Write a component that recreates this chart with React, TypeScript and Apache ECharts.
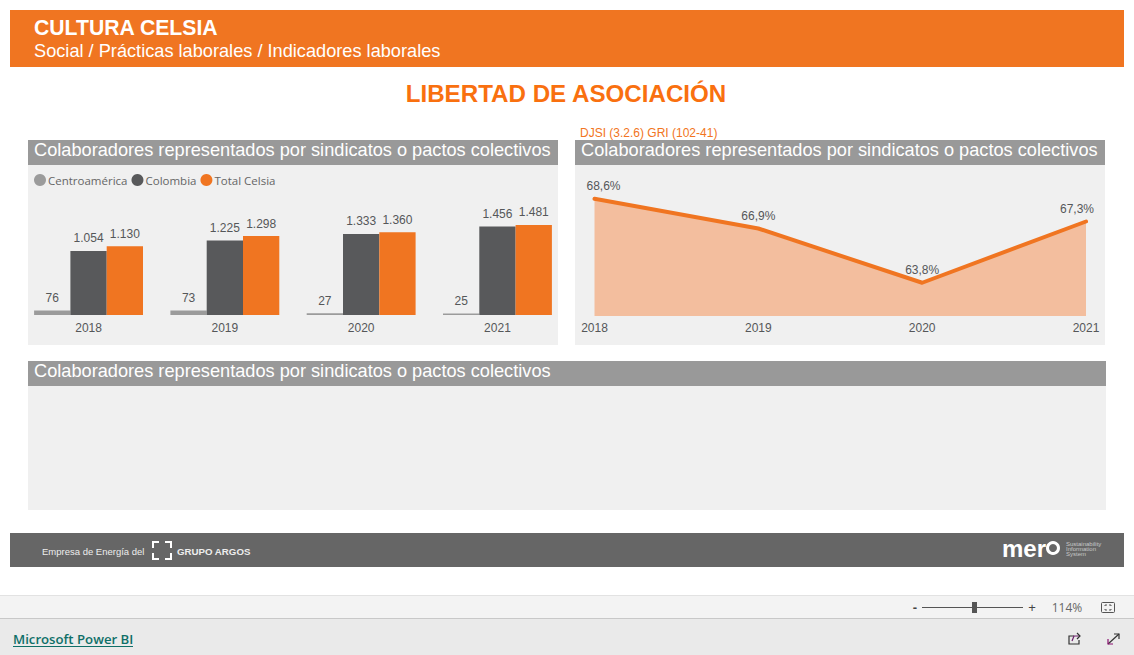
import React, { useEffect, useRef } from "react";
import * as echarts from "echarts";

const years = ["2018", "2019", "2020", "2021"];
const centroamerica = [76, 73, 27, 25];
const colombia = [1054, 1225, 1333, 1456];
const totalCelsia = [1130, 1298, 1360, 1481];
const representacion = [68.6, 66.9, 63.8, 67.3];

const panelTitle = "Colaboradores representados por sindicatos o pactos colectivos";
const ORANGE = "#F07521";
const SANS = "Liberation Sans, Arial, sans-serif";
const LABEL = "#555759";

const thousands = (v: number) => String(v).replace(/\B(?=(\d{3})+$)/g, ".");
const percent = (v: number) => v.toFixed(1).replace(".", ",") + "%";

const rect = (x: number, y: number, width: number, height: number, fill: string) => ({
  type: "rect",
  silent: true,
  shape: { x, y, width, height },
  style: { fill },
});
const text = (x: number, y: number, t: string, font: string, fill: string, align = "left") => ({
  type: "text",
  silent: true,
  x,
  y,
  style: { text: t, font, fill, align, verticalAlign: "middle" },
});
const stroke = (points: number[][], color: string, lineWidth = 1) => ({
  type: "polyline",
  silent: true,
  shape: { points },
  style: { stroke: color, fill: "none", lineWidth },
});

const graphics = [
  rect(10, 10, 1114, 57, ORANGE),
  text(34, 27.5, "CULTURA CELSIA", `bold 21.2px ${SANS}`, "#fff"),
  text(34, 51, "Social / Prácticas laborales / Indicadores laborales", `18.2px ${SANS}`, "#fff"),
  text(566, 93.5, "LIBERTAD DE ASOCIACIÓN", `bold 24.15px ${SANS}`, "#F9700F", "center"),
  text(580, 132.5, "DJSI (3.2.6) GRI (102-41)", `12px ${SANS}`, "#F27522"),

  rect(28, 140, 530, 205, "#F0F0F0"),
  rect(28, 140, 530, 25, "#999999"),
  text(34, 150, panelTitle, `18.2px ${SANS}`, "#fff"),

  rect(575, 140, 530, 205, "#F0F0F0"),
  rect(575, 140, 530, 25, "#999999"),
  text(581, 150, panelTitle, `18.2px ${SANS}`, "#fff"),

  rect(28, 361, 1078, 149, "#F0F0F0"),
  rect(28, 361, 1078, 25, "#999999"),
  text(34, 371, panelTitle, `18.2px ${SANS}`, "#fff"),

  rect(10, 533, 1114, 34, "#666666"),
  text(42, 551, "Empresa de Energía del", `9.5px ${SANS}`, "#EDEDED"),
  stroke([[153, 548], [153, 542], [159, 542]], "#fff", 2),
  stroke([[165, 542], [171, 542], [171, 548]], "#fff", 2),
  stroke([[153, 553], [153, 559], [159, 559]], "#fff", 2),
  stroke([[165, 559], [171, 559], [171, 553]], "#fff", 2),
  text(177, 551, "GRUPO ARGOS", `bold 9.7px ${SANS}`, "#EDEDED"),
  text(1002, 548, "mer", `bold 24px ${SANS}`, "#fff"),
  { type: "circle", silent: true, shape: { cx: 1053, cy: 548, r: 5.5 }, style: { fill: "none", stroke: "#fff", lineWidth: 3 } },
  text(1066, 544, "Sustainability", `6px ${SANS}`, "#C8C8C8"),
  text(1066, 549, "Information", `6px ${SANS}`, "#C8C8C8"),
  text(1066, 554, "System", `6px ${SANS}`, "#C8C8C8"),

  rect(0, 596, 1134, 23, "#F3F3F3"),
  rect(0, 595, 1134, 1, "#E2E2E2"),
  rect(0, 618, 1134, 37, "#EAEAEA"),
  rect(0, 618, 1134, 1, "#C8C8C8"),
  text(915, 607, "-", `bold 13px ${SANS}`, "#444", "center"),
  rect(922, 607, 101, 1, "#555"),
  rect(972, 602, 5, 11, "#555"),
  text(1032, 607, "+", `13px ${SANS}`, "#444", "center"),
  text(1067, 607, "114%", `12px "Open Sans", ${SANS}`, "#666", "center"),
  {
    type: "rect",
    silent: true,
    shape: { x: 1101.5, y: 602.5, width: 13, height: 10, r: 1 },
    style: { fill: "none", stroke: "#555", lineWidth: 1 },
  },
  stroke([[1105, 606], [1105, 605], [1107, 605]], "#555", 1),
  stroke([[1109, 605], [1111, 605], [1111, 606]], "#555", 1),
  stroke([[1105, 609], [1105, 610], [1107, 610]], "#555", 1),
  stroke([[1109, 610], [1111, 610], [1111, 609]], "#555", 1),
  text(13, 639, "Microsoft Power BI", `600 13.2px "Open Sans", ${SANS}`, "#0F6F68"),
  rect(13, 646, 120, 1, "#0F6F68"),
  stroke([[1074, 636], [1069, 636], [1069, 644], [1079, 644], [1079, 640]], "#333", 1.2),
  stroke([[1072, 641], [1074, 636], [1080, 636]], "#6B1F6B", 1.2),
  stroke([[1077, 633], [1080, 636], [1077, 639]], "#333", 1.2),
  stroke([[1108, 644], [1119, 634]], "#333", 1.2),
  stroke([[1114, 634], [1119, 634], [1119, 639]], "#333", 1.2),
  stroke([[1108, 639], [1108, 644], [1113, 644]], "#8A1070", 1.2),
];

const barLabel = {
  show: true,
  position: "top" as const,
  distance: 6.5,
  color: LABEL,
  fontFamily: SANS,
  fontSize: 12,
  formatter: (p: any) => thousands(p.value),
};

const barSeries = (name: string, data: number[], color: string) => ({
  type: "bar",
  name,
  data,
  xAxisIndex: 0,
  yAxisIndex: 0,
  barWidth: 36.3,
  barGap: 0,
  itemStyle: { color },
  label: barLabel,
});

export default function App() {
  const ref = useRef<HTMLDivElement>(null);
  useEffect(() => {
    const chart = echarts.init(ref.current!, undefined, { renderer: "svg" });
    chart.setOption({
      animation: false,
      backgroundColor: "#fff",
      graphic: { elements: graphics },
      legend: {
        left: 29,
        top: 169,
        icon: "circle",
        itemWidth: 12,
        itemHeight: 12,
        itemGap: 4,
        selectedMode: false,
        data: ["Centroamérica", "Colombia", "Total Celsia"],
        textStyle: {
          color: "#666",
          fontSize: 11.5,
          fontFamily: '"Open Sans", sans-serif',
          padding: [0, 0, 0, -3],
        },
      },
      grid: [
        { left: 20.4, width: 545.2, top: 215, height: 100 },
        { left: 594.5, width: 491.5, top: 190, height: 126 },
      ],
      xAxis: [
        {
          type: "category",
          gridIndex: 0,
          data: years,
          axisLine: { show: false },
          axisTick: { show: false },
          axisLabel: { color: LABEL, fontFamily: SANS, fontSize: 12, margin: 7 },
        },
        {
          type: "category",
          gridIndex: 1,
          data: years,
          boundaryGap: false,
          axisLine: { show: false },
          axisTick: { show: false },
          axisLabel: { color: LABEL, fontFamily: SANS, fontSize: 12, margin: 6 },
        },
      ],
      yAxis: [
        { type: "value", gridIndex: 0, min: 0, max: 1645, show: false, splitLine: { show: false } },
        { type: "value", gridIndex: 1, min: 61.9, max: 69.1, show: false, splitLine: { show: false } },
      ],
      series: [
        barSeries("Centroamérica", centroamerica, "#9B9B9B"),
        barSeries("Colombia", colombia, "#58595B"),
        barSeries("Total Celsia", totalCelsia, ORANGE),
        {
          type: "line",
          name: "Representación",
          xAxisIndex: 1,
          yAxisIndex: 1,
          data: representacion.map((value, i) => ({
            value,
            label: { offset: i === 0 ? [9, 0] : i === representacion.length - 1 ? [-9, 0] : [0, 0] },
          })),
          showSymbol: true,
          showAllSymbol: true,
          symbol: "circle",
          symbolSize: 3,
          itemStyle: { color: ORANGE },
          lineStyle: { color: ORANGE, width: 4, cap: "round" },
          areaStyle: { color: "#F3BE9E", opacity: 1 },
          label: {
            show: true,
            position: "top",
            distance: 5,
            color: LABEL,
            fontFamily: SANS,
            fontSize: 12,
            formatter: (p: any) => percent(p.value),
          },
        },
      ],
    });
    return () => chart.dispose();
  }, []);
  return <div ref={ref} style={{ position: "absolute", left: 0, top: 0, width: 1134, height: 655 }} />;
}
